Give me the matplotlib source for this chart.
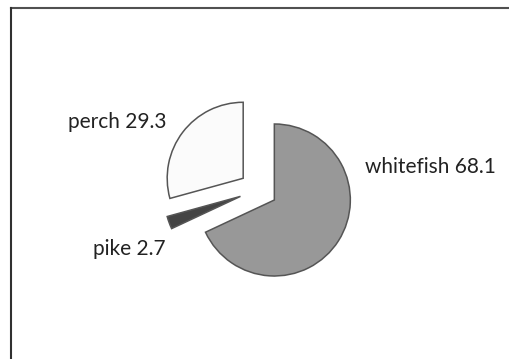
import matplotlib
matplotlib.use("Agg")
import matplotlib.pyplot as plt
from matplotlib.lines import Line2D

species = ["whitefish", "pike", "perch"]
shares = [68.1, 2.7, 29.3]
colors = ["#989898", "#444444", "#fbfbfb"]
explode = [0.25, 0.25, 0.25]

W, H = 510, 359
fig = plt.figure(figsize=(W / 100, H / 100), dpi=100)
ax = fig.add_axes([0, 0, 1, 1])

ax.pie(shares, colors=colors, explode=explode, startangle=90,
       counterclock=False, radius=1.0,
       wedgeprops=dict(edgecolor="#555555", linewidth=1.1))

# pie center and radius in pixels
cx, cy, r = 258.3, 189.8, 76.0
ax.set_xlim(-cx / r, (W - cx) / r)
ax.set_ylim(-(H - cy) / r, cy / r)
ax.set_aspect("equal")
ax.set_axis_off()

def px(x, y):
    return x / W, 1 - y / H

font = dict(family=["Lato", "DejaVu Sans"], fontsize=15, color="#222222")
label_pos = {
    "whitefish": (365, 173.3, "left"),
    "perch": (166.7, 128.3, "right"),
    "pike": (165.7, 255.3, "right"),
}
for name, val in zip(species, shares):
    x, y, ha = label_pos[name]
    fig.text(*px(x, y), f"{name} {val}", ha=ha, va="baseline", **font)

# frame lines along the top and left
fig.add_artist(Line2D([px(11, 0)[0], 1.0], [px(0, 8)[1]] * 2,
                      color="#505050", lw=1.5, transform=fig.transFigure))
fig.add_artist(Line2D([px(11, 0)[0]] * 2, [0.0, px(0, 8)[1]],
                      color="#303030", lw=1.5, transform=fig.transFigure))

fig.savefig("out.png", dpi=100)
